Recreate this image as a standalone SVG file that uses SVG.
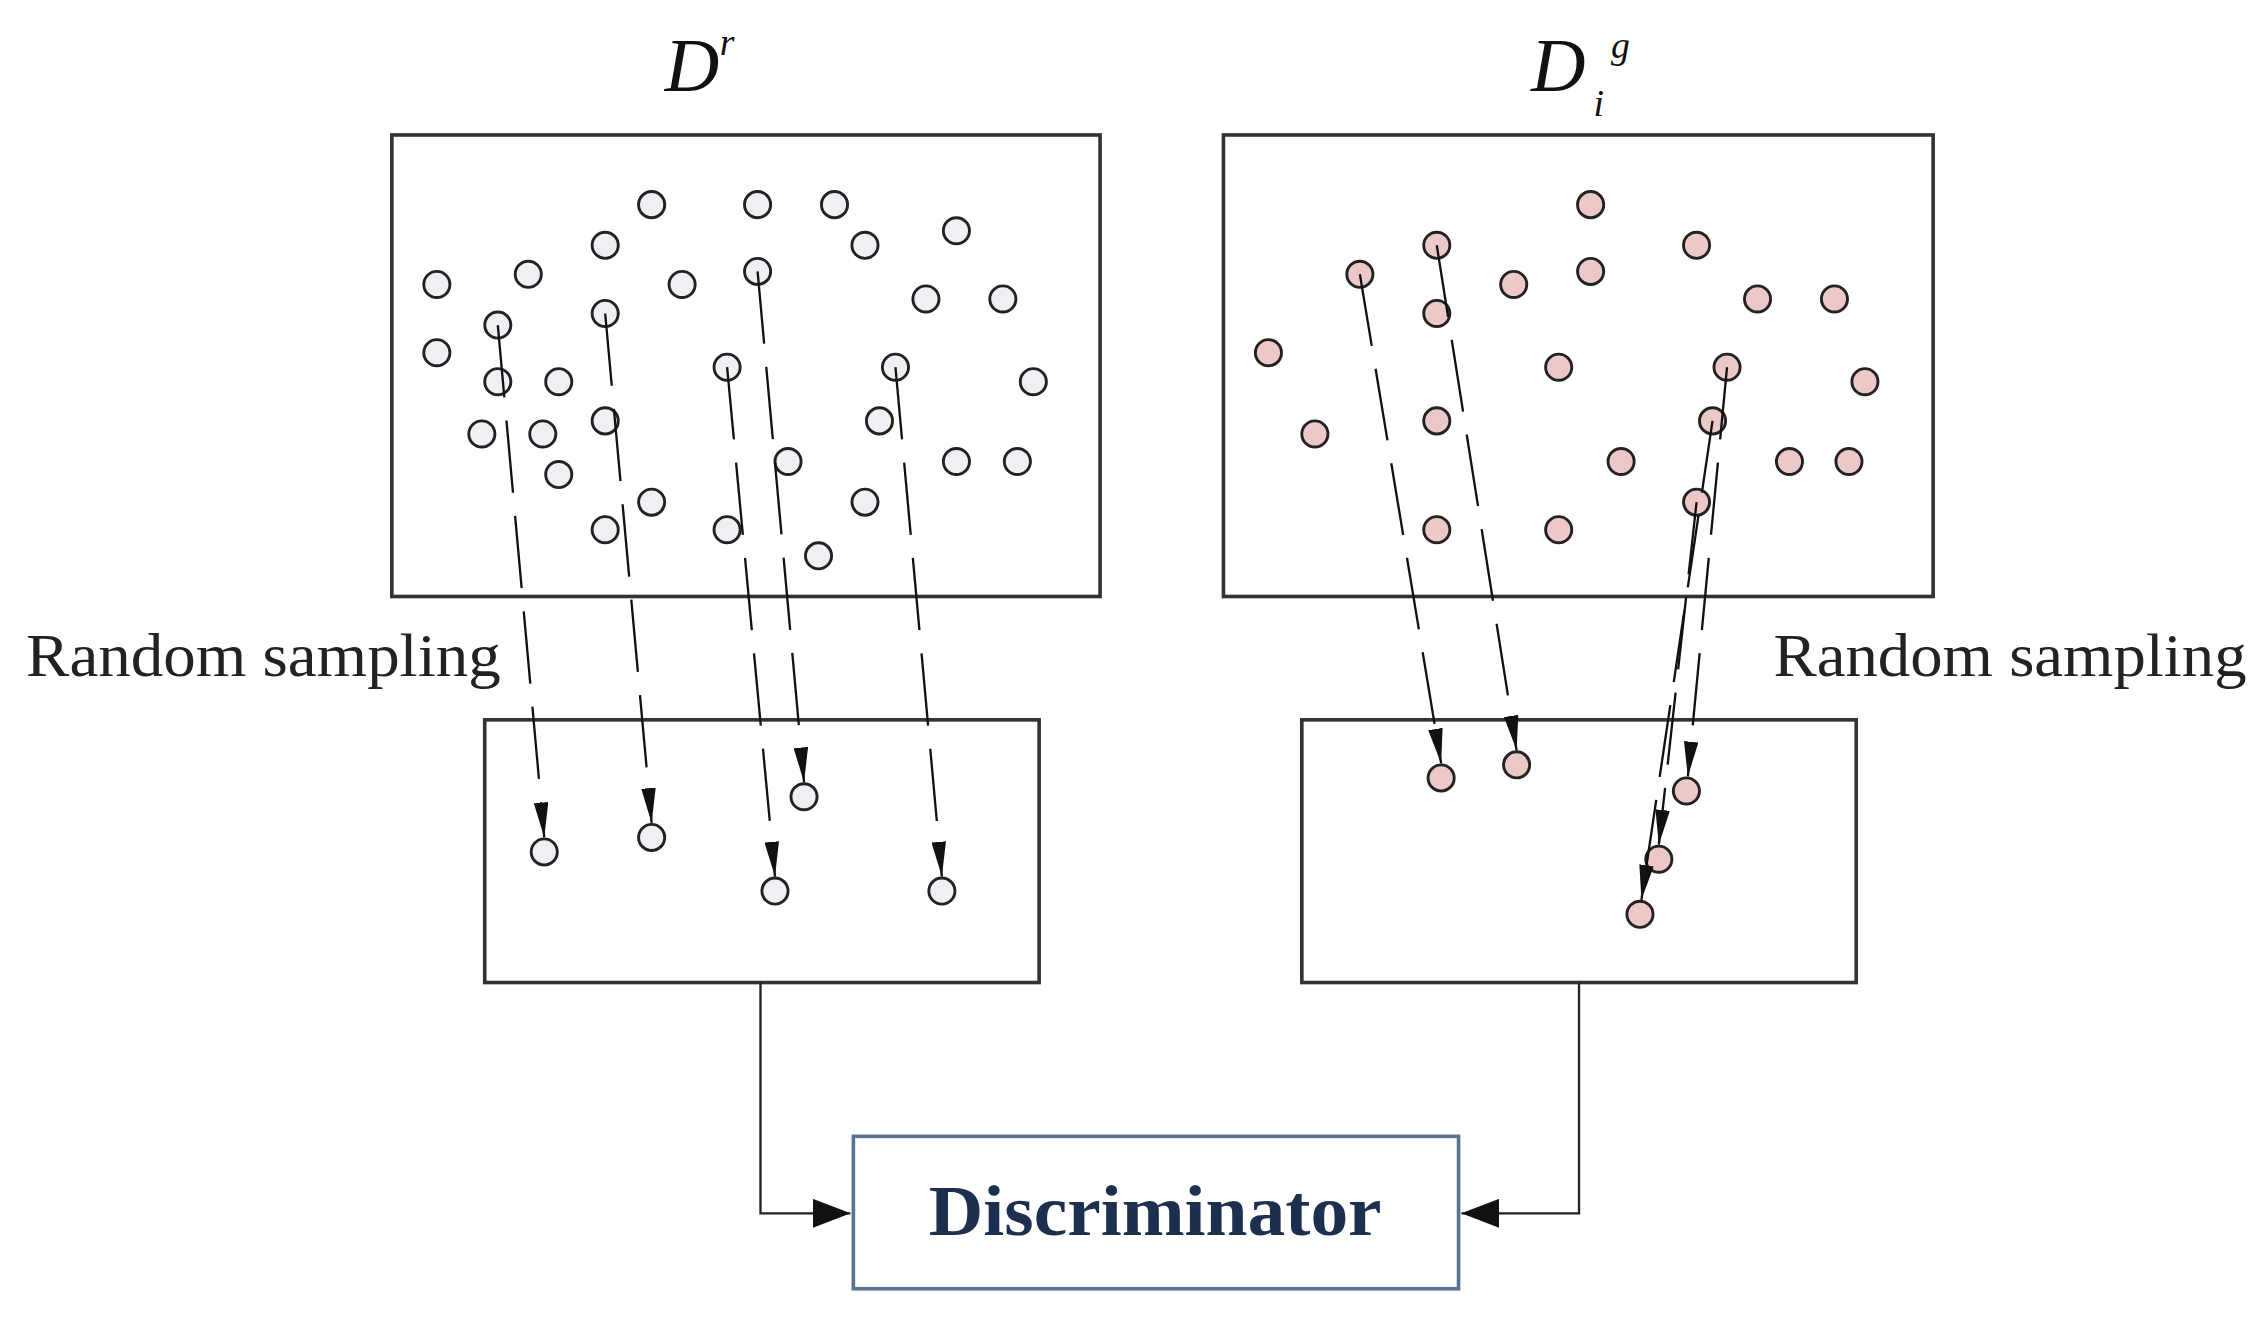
<svg xmlns="http://www.w3.org/2000/svg" width="2264" height="1320" viewBox="0 0 2264 1320">
<style>
.box{fill:#fff;stroke:#333;stroke-width:2.5}
.w{fill:#eef0f5;stroke:#222;stroke-width:2}
.p{fill:#ecc9c8;stroke:#222;stroke-width:2}
.d{stroke:#111;stroke-width:1.6;fill:none;stroke-dasharray:50 16}
.c{stroke:#222;stroke-width:1.6;fill:none}
.t{font-family:"Liberation Serif",serif;font-size:42px;fill:#222}
.m{font-family:"Liberation Serif",serif;font-style:italic;fill:#111}
</style>
<defs>
<marker id="a" viewBox="0 0 10 10" refX="10" refY="5" markerWidth="24" markerHeight="10" markerUnits="userSpaceOnUse" orient="auto" preserveAspectRatio="none"><path d="M0,0L10,5L0,10z" fill="#111"/></marker>
<marker id="b" viewBox="0 0 10 10" refX="10" refY="5" markerWidth="26" markerHeight="20" markerUnits="userSpaceOnUse" orient="auto" preserveAspectRatio="none"><path d="M0,0L10,5L0,10z" fill="#111"/></marker>
</defs>
<rect width="2264" height="1320" fill="#fff"/>
<g transform="scale(1.4513)">
<g id="title-left"><text class="m" x="458" y="63" font-size="52">D</text><text class="m" x="496" y="38" font-size="26">r</text></g>
<g id="title-right"><text class="m" x="1055" y="63" font-size="52">D</text><text class="m" x="1098" y="80" font-size="26">i</text><text class="m" x="1110" y="40" font-size="26">g</text></g>
<g id="pool-real">
<rect class="box" x="270" y="93" width="488" height="318"/>
<g class="w">
<circle cx="449" cy="141" r="9"/><circle cx="522" cy="141" r="9"/><circle cx="575" cy="141" r="9"/><circle cx="417" cy="169" r="9"/><circle cx="596" cy="169" r="9"/><circle cx="659" cy="159" r="9"/><circle cx="301" cy="196" r="9"/><circle cx="364" cy="189" r="9"/><circle cx="470" cy="196" r="9"/><circle cx="522" cy="187" r="9"/><circle cx="638" cy="206" r="9"/><circle cx="691" cy="206" r="9"/><circle cx="343" cy="224" r="9"/><circle cx="417" cy="216" r="9"/><circle cx="301" cy="243" r="9"/><circle cx="343" cy="263" r="9"/><circle cx="385" cy="263" r="9"/><circle cx="501" cy="253" r="9"/><circle cx="617" cy="253" r="9"/><circle cx="712" cy="263" r="9"/><circle cx="332" cy="299" r="9"/><circle cx="374" cy="299" r="9"/><circle cx="417" cy="290" r="9"/><circle cx="606" cy="290" r="9"/><circle cx="543" cy="318" r="9"/><circle cx="659" cy="318" r="9"/><circle cx="701" cy="318" r="9"/><circle cx="385" cy="327" r="9"/><circle cx="449" cy="346" r="9"/><circle cx="596" cy="346" r="9"/><circle cx="417" cy="365" r="9"/><circle cx="501" cy="365" r="9"/><circle cx="564" cy="383" r="9"/>
</g></g>
<g id="pool-gen">
<rect class="box" x="843" y="93" width="489" height="318"/>
<g class="p">
<circle cx="1096" cy="141" r="9"/><circle cx="990" cy="169" r="9"/><circle cx="1169" cy="169" r="9"/><circle cx="937" cy="189" r="9"/><circle cx="1043" cy="196" r="9"/><circle cx="1096" cy="187" r="9"/><circle cx="1211" cy="206" r="9"/><circle cx="1264" cy="206" r="9"/><circle cx="990" cy="216" r="9"/><circle cx="874" cy="243" r="9"/><circle cx="1074" cy="253" r="9"/><circle cx="1190" cy="253" r="9"/><circle cx="1285" cy="263" r="9"/><circle cx="906" cy="299" r="9"/><circle cx="990" cy="290" r="9"/><circle cx="1180" cy="290" r="9"/><circle cx="1117" cy="318" r="9"/><circle cx="1233" cy="318" r="9"/><circle cx="1274" cy="318" r="9"/><circle cx="1169" cy="346" r="9"/><circle cx="990" cy="365" r="9"/><circle cx="1074" cy="365" r="9"/>
</g></g>
<g id="sample-real">
<rect class="box" x="334" y="496" width="382" height="181"/>
<g class="w"><circle cx="375" cy="587" r="9"/><circle cx="449" cy="577" r="9"/><circle cx="554" cy="549" r="9"/><circle cx="534" cy="614" r="9"/><circle cx="649" cy="614" r="9"/></g>
</g>
<g id="sample-gen">
<rect class="box" x="897" y="496" width="382" height="181"/>
<g class="p"><circle cx="993" cy="536" r="9"/><circle cx="1045" cy="527" r="9"/><circle cx="1162" cy="545" r="9"/><circle cx="1143" cy="592" r="9"/><circle cx="1130" cy="630" r="9"/></g>
</g>
<g id="discriminator">
<rect x="588" y="783" width="417" height="105" fill="#fff" stroke="#5b7291" stroke-width="2.5"/>
<text x="640" y="851" textLength="312" lengthAdjust="spacingAndGlyphs" font-family="Liberation Serif,serif" font-weight="bold" font-size="50" fill="#1d2f4e">Discriminator</text>
</g>
<g id="labels">
<text class="t" x="18" y="466" textLength="327" lengthAdjust="spacingAndGlyphs">Random sampling</text>
<text class="t" x="1222" y="466" textLength="326" lengthAdjust="spacingAndGlyphs">Random sampling</text>
</g>
<g id="connectors">
<path class="d" d="M343,224L375,577" marker-end="url(#a)"/>
<path class="d" d="M417,216L449,567" marker-end="url(#a)"/>
<path class="d" d="M522,187L554,539" marker-end="url(#a)"/>
<path class="d" d="M501,253L534,604" marker-end="url(#a)"/>
<path class="d" d="M617,253L649,604" marker-end="url(#a)"/>
<path class="d" d="M937,189L993,526" marker-end="url(#a)"/>
<path class="d" d="M990,169L1045,517" marker-end="url(#a)"/>
<path class="d" d="M1190,253L1163,535" marker-end="url(#a)"/>
<path class="d" d="M1169,346L1143,582" marker-end="url(#a)"/>
<path class="d" d="M1180,290L1131,620" marker-end="url(#a)"/>
<path class="c" d="M524,677V836H586" marker-end="url(#b)"/>
<path class="c" d="M1088,677V836H1007" marker-end="url(#b)"/>
</g>
</g>
</svg>
